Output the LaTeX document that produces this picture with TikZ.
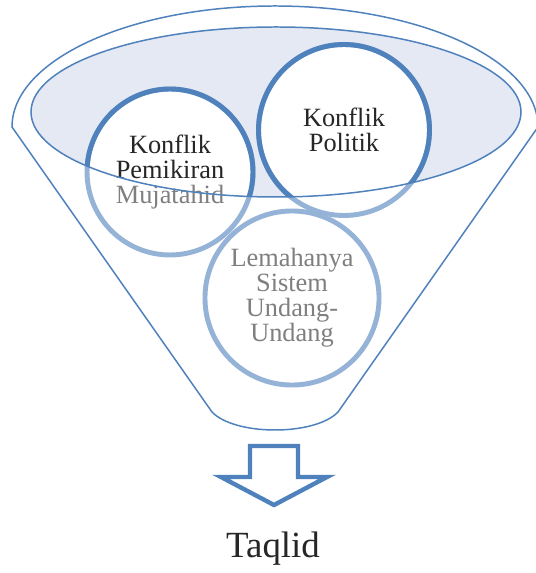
\documentclass[tikz,border=0pt]{standalone}
\usepackage{fontspec}
\setmainfont{Liberation Serif}
\definecolor{f1}{RGB}{79,129,189}
\definecolor{f2}{RGB}{149,179,215}
\definecolor{f3}{RGB}{228,233,243}
\definecolor{t1}{RGB}{38,38,38}
\definecolor{t2}{RGB}{127,127,127}

\begin{document}
\begin{tikzpicture}[
    x=0.02cm, y=-0.02cm,
    rim/.style={
        draw=f1, line width=0.85pt
    },
    ring/.style={
        circle, draw=f2, fill=white, line width=2.8pt,
        align=center, text=t1,
        font=\fontsize{15}{14.2}\selectfont
    },
    dark/.style={
        draw=f1, line width=2.8pt
    },
    hollow/.style={
        draw=f1, line width=2.5pt, line join=miter
    }
]
    \useasboundingbox (0,0) rectangle (535,573);

    \fill [f3] (276,112) ellipse [x radius=245, y radius=85];

    \node [ring, minimum size=3.32cm] (pemikiran) at (170,172)
        {Konflik\\Pemikiran\\\textcolor{t2}{Mujatahid}};
    \node [ring, minimum size=3.42cm] (politik) at (344,130)
        {Konflik\\Politik};
    \node [ring, minimum size=3.48cm, text=t2] (sistem) at (292,298)
        {Lemahanya\\Sistem\\Undang-\\Undang};

    \begin{scope}
        \clip (276,112) ellipse [x radius=245, y radius=85];
        \draw [dark] (pemikiran.center) circle [radius=83];
        \draw [dark] (politik.center) circle [radius=85.5];
    \end{scope}

    \draw [rim] (276,112) ellipse [x radius=245, y radius=85];

    \draw [rim] (212,412) -- (12,127)
        arc [start angle=180, end angle=360, x radius=263, y radius=121]
        -- (338,412) .. controls (315,436) and (235,436) .. cycle;

    \draw [hollow] (250,446) -- (298,446) -- (298,477) -- (327,477)
        -- (274,505) -- (221,477) -- (250,477) -- cycle;

    \node [font=\fontsize{21}{22}\selectfont, text=t1, anchor=base]
        (taqlid) at (273,557) {Taqlid};

\end{tikzpicture}
\end{document}
